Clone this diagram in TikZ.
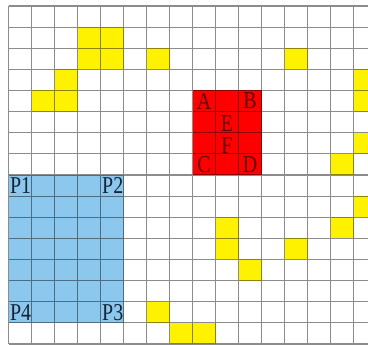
\documentclass[tikz,border=0pt]{standalone}
\usepackage{fontspec}
\setmainfont{Liberation Serif}
\usetikzlibrary{positioning}
\definecolor{skyfill}{RGB}{140,200,238}
\definecolor{darkred}{RGB}{95,0,0}
\definecolor{darkink}{RGB}{20,35,55}
\tikzstyle{obstacle} = [fill=yellow]
\tikzstyle{target} = [fill=red]
\tikzstyle{region} = [fill=skyfill]
\tikzstyle{gridline} = [draw=black, draw opacity=0.45, line width=1.1pt]
\tikzstyle{celllbl} = [inner sep=0pt, font=\fontsize{21}{21}\selectfont]
\newcommand{\tall}[1]{\scalebox{0.95}[1.15]{#1}}

\begin{document}
\begin{tikzpicture}[x=23pt, y=-21.125pt]

\useasboundingbox (-0.3696,-0.284) rectangle (15.6304,16.0473);
\clip (-0.3696,-0.284) rectangle (15.6304,16.0473);

% obstacles
\foreach \c/\r in {3/1,4/1,3/2,4/2,6/2,12/2,2/3,15/3,1/4,2/4,15/4,15/6,14/7,
                   15/9,9/10,14/10,9/11,12/11,10/12,6/14,7/15,8/15}
  \fill[obstacle] (\c,\r) rectangle ++(1,1);

% target block and start region
\fill[target] (8,4) rectangle (11,8);
\fill[region] (0,8) rectangle (5,15);

% grid
\draw[gridline] \foreach \i in {0,...,16} {(\i,0) -- (\i,16) (0,\i) -- (16,\i)};

% labels
\node (a) [celllbl, text=darkred] at (8.5,4.5) {\tall{A}};
\node (b) [celllbl, text=darkred] at (10.5,4.5) {\tall{B}};
\node (e) [celllbl, text=darkred] at (9.5,5.56) {\tall{E}};
\node (f) [celllbl, text=darkred] at (9.5,6.6) {\tall{F}};
\node (c) [celllbl, text=darkred] at (8.5,7.5) {\tall{C}};
\node (d) [celllbl, text=darkred] at (10.5,7.5) {\tall{D}};

\node (p1) [celllbl, text=darkink, anchor=west] at (0.06,8.5) {\tall{P1}};
\node (p2) [celllbl, text=darkink, anchor=east] at (5,8.5) {\tall{P2}};
\node (p4) [celllbl, text=darkink, anchor=west] at (0.06,14.5) {\tall{P4}};
\node (p3) [celllbl, text=darkink, anchor=east] at (5,14.5) {\tall{P3}};

\end{tikzpicture}
\end{document}
